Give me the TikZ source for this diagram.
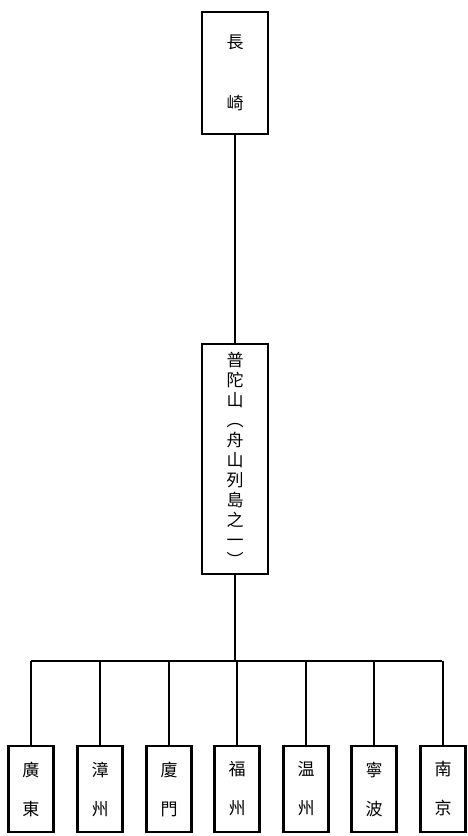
\documentclass[tikz,border=0pt]{standalone}
\usepackage{fontspec}
\newfontfamily\cjk{Noto Sans CJK TC}
\begin{document}
\begin{tikzpicture}[x=1pt,y=-1pt,
  box/.style={draw,line width=2.2pt,minimum width=45pt,inner sep=0pt,font=\cjk\fontsize{17}{17}\selectfont,align=center},
  link/.style={line width=1.8pt}]
\useasboundingbox (0,0) rectangle (467,836);
\node[box,minimum width=66pt,minimum height=122pt] (top) at (235,73) {長\\[44pt]崎};
\node[box,minimum width=66pt,minimum height=230pt,font=\cjk\fontsize{17}{20}\selectfont] (mid) at (235,459) {普\\陀\\山\\︵\\舟\\山\\列\\島\\之\\一\\︶};
\draw[link] (top.south) -- (mid.north);
\coordinate (bar) at (235,661);
\draw[link] (mid.south) -- (bar);
\coordinate (bl) at (31,661);
\coordinate (br) at (442,661);
\draw[link] (bl) -- (br);
\foreach \i/\x/\a/\b in {1/31/廣/東,2/100/漳/州,3/169/廈/門,4/237/福/州,5/306/温/州,6/374/寧/波,7/443/南/京}{
  \node[box,minimum height=86pt] (b\i) at (\x,789) {\a\\[22pt]\b};
  \draw[link] (\x,661) -- (b\i.north);
}
\end{tikzpicture}
\end{document}
